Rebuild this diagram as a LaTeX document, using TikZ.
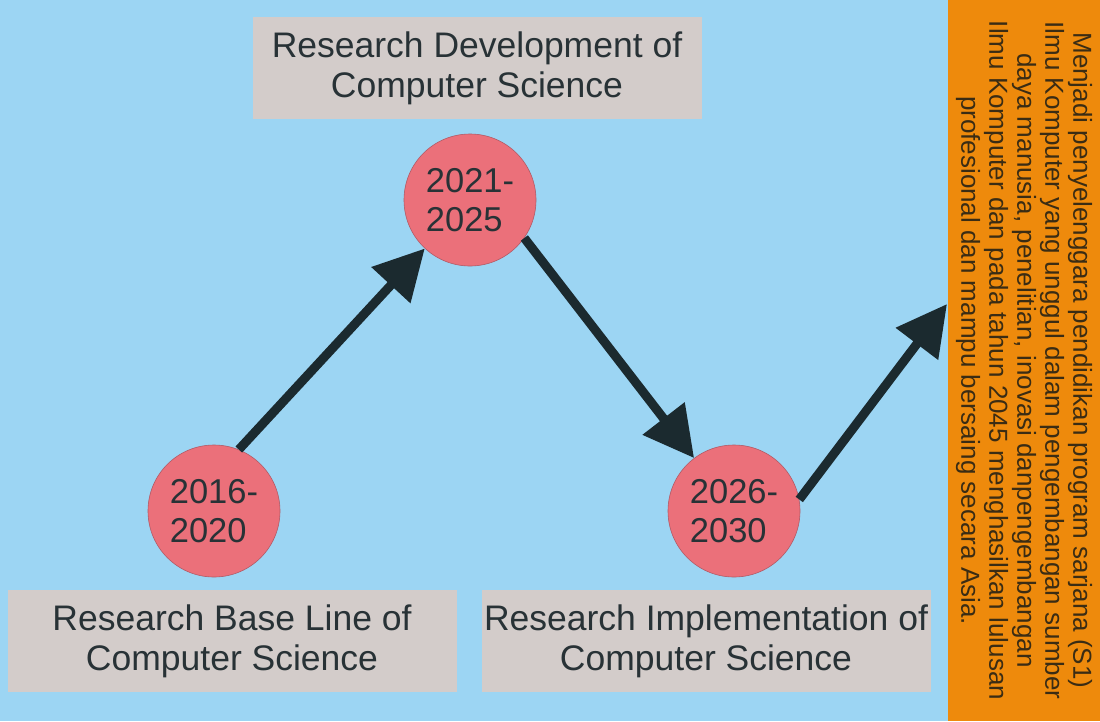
\documentclass[tikz,border=0pt]{standalone}
\usepackage{fontspec}
\setmainfont{Liberation Sans}
\usetikzlibrary{arrows.meta}
\definecolor{skyback}{HTML}{9CD5F3}
\definecolor{boxgray}{HTML}{D3CCCA}
\definecolor{dotred}{HTML}{EB707A}
\definecolor{dotedge}{HTML}{B25A66}
\definecolor{inkdark}{HTML}{283236}
\definecolor{arrowdark}{HTML}{1B2A2F}
\definecolor{bandorange}{HTML}{EE8A0C}
\definecolor{bandink}{HTML}{3A2C14}
\begin{document}
\begin{tikzpicture}[x=1pt,y=-1pt,
  phase/.style={fill=boxgray,minimum width=449pt,minimum height=102pt,inner sep=0pt,
    align=center,text=inkdark,font=\fontsize{35.5}{40}\selectfont},
  period/.style={circle,fill=dotred,draw=dotedge,line width=0.6pt,minimum size=132pt,
    inner sep=0pt,align=left,text=inkdark,font=\fontsize{34.5}{39}\selectfont},
  jump/.style={draw=arrowdark,line width=9pt,-{Triangle[length=50pt,width=51pt]}}]
\useasboundingbox (0,0) rectangle (1100,721);
\fill[skyback] (0,0) rectangle (1100,721);

% phase labels
\node[phase] (develop) at (477,68) {Research Development of\\Computer Science};
\node[phase] (baseline) at (232,641) {Research Base Line of\\Computer Science};
\node[phase] (implement) at (706,641) {Research Implementation of\\Computer Science};

% periods
\node[period] (first) at (214,511) {2016-\\2020};
\node[period] (second) at (470,200) {2021-\\2025};
\node[period] (third) at (734,511) {2026-\\2030};

% vision band
\node[rotate=-90,fill=bandorange,minimum width=721pt,minimum height=152pt,inner sep=0pt,
  align=center,text=bandink,font=\fontsize{26}{28}\selectfont] (vision) at (1024,360.5)
  {Menjadi penyelenggara pendidikan program sarjana (S1)\\
   Ilmu Komputer yang unggul dalam pengembangan sumber\\
   daya manusia, penelitian, inovasi danpengembangan\\
   Ilmu Komputer dan pada tahun 2045 menghasilkan lulusan\\
   profesional dan mampu bersaing secara Asia.};
\coordinate (goal) at (947,304);

% arrows
\draw[jump] (first.68) -- (second.227);
\draw[jump] (second.325) -- (third.127);
\draw[jump] (third.10) -- (goal);
\end{tikzpicture}
\end{document}
